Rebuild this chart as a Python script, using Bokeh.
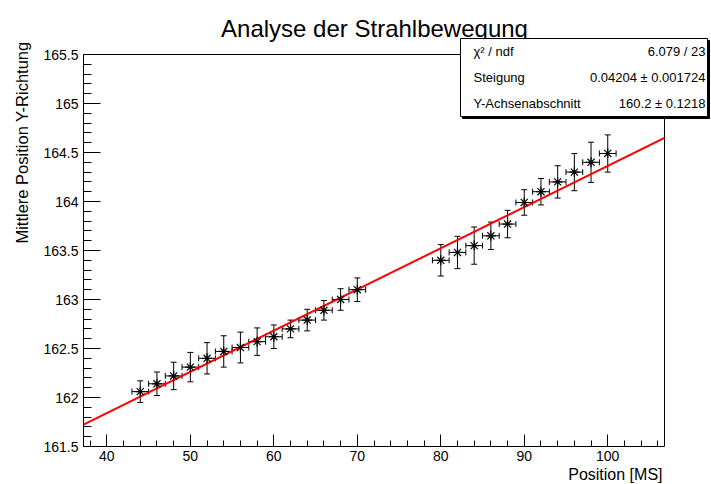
import numpy as np
from bokeh.plotting import figure
from bokeh.models import (Range1d, FixedTicker, CustomJSTickFormatter, Whisker, TeeHead,
                          ColumnDataSource, Label, BoxAnnotation, Title)
from bokeh.embed import file_html
from bokeh.resources import INLINE

# ---------------- data ----------------
title_text = "Analyse der Strahlbewegung"
x_title = "Position [MS]"
y_title = "Mittlere Position Y-Richtung"

pos_x = [44, 46, 48, 50, 52, 54, 56, 58, 60, 62, 64, 66, 68, 70,
         80, 82, 84, 86, 88, 90, 92, 94, 96, 98, 100]
pos_x_err = [1, 1, 1, 1, 1, 1, 1, 1, 1, 1, 1, 1, 1, 1,
             1, 1, 1, 1, 1, 1, 1, 1, 1, 1, 1]
mean_y = [162.06, 162.14, 162.22, 162.31, 162.40, 162.47, 162.51, 162.57, 162.62,
          162.70, 162.79, 162.89, 163.00, 163.10,
          163.40, 163.48, 163.55, 163.65, 163.77, 163.99, 164.10, 164.20, 164.30,
          164.40, 164.49]
mean_y_err = [0.11, 0.12, 0.14, 0.15, 0.16, 0.16, 0.157, 0.14, 0.12, 0.09, 0.11,
              0.10, 0.11, 0.12,
              0.16, 0.165, 0.19, 0.14, 0.14, 0.13, 0.135, 0.165, 0.19, 0.205, 0.19]

fit_slope = 0.04204
fit_intercept = 160.16

stats_names = ["χ² / ndf", "Steigung", "Y-Achsenabschnitt"]
stats_values = ["6.079 / 23", "0.04204 ± 0.001724", "160.2 ± 0.1218"]

x_lim = (37.2, 106.8)
y_lim = (161.5, 165.5)
x_major_ticks = [40, 50, 60, 70, 80, 90, 100]
x_minor_ticks = list(range(38, 107, 2))
y_major_ticks = [161.5, 162, 162.5, 163, 163.5, 164, 164.5, 165, 165.5]
y_minor_ticks = [round(v, 1) for v in np.arange(161.5, 165.55, 0.1)]

# ---------------- layout (page pixels) ----------------
W, H = 711, 484
AX_L, AX_R, AX_T, AX_B = 83, 664, 54, 446   # ROOT frame edges on the page
# Bokeh frame spans to the right edge and the top of the canvas so that
# the title and the statistics box (which overlap the ROOT frame) are not clipped
F_L, F_R, F_T, F_B = AX_L, W, 0, AX_B

ppu_x = (AX_R - AX_L) / (x_lim[1] - x_lim[0])
ppu_y = (AX_B - AX_T) / (y_lim[1] - y_lim[0])
x_view = (x_lim[0], x_lim[1] + (F_R - AX_R) / ppu_x)
y_view = (y_lim[0], y_lim[1] + (AX_T - F_T) / ppu_y)


def fx(px):
    return px - F_L


def fy(py):
    return F_B - py


FONT = "Liberation Sans"

p = figure(width=W, height=H, output_backend="svg", toolbar_location=None,
           x_range=Range1d(*x_view), y_range=Range1d(*y_view),
           min_border_left=F_L, min_border_right=W - F_R,
           min_border_top=F_T, min_border_bottom=H - F_B)
p.title.visible = False
p.xgrid.visible = False
p.ygrid.visible = False
p.background_fill_color = "white"
p.border_fill_color = "white"
p.outline_line_color = None

fmt = CustomJSTickFormatter(code="return String(Math.round(tick*10)/10)")

xa = p.xaxis[0]
xa.bounds = x_lim
xa.ticker = FixedTicker(ticks=x_major_ticks, minor_ticks=x_minor_ticks)
xa.formatter = fmt
xa.major_tick_in = 12
xa.major_tick_out = 0
xa.minor_tick_in = 6
xa.minor_tick_out = 0
xa.major_label_standoff = 4
xa.major_label_text_font = FONT
xa.major_label_text_font_size = "14px"
xa.major_label_text_color = "black"
xa.axis_line_color = "black"
xa.major_tick_line_color = "black"
xa.minor_tick_line_color = "black"

ya = p.yaxis[0]
ya.bounds = y_lim
ya.ticker = FixedTicker(ticks=y_major_ticks, minor_ticks=y_minor_ticks)
ya.formatter = fmt
ya.major_tick_in = 17
ya.major_tick_out = 0
ya.minor_tick_in = 8
ya.minor_tick_out = 0
ya.major_label_standoff = 5
ya.major_label_text_font = FONT
ya.major_label_text_font_size = "14px"
ya.major_label_text_color = "black"
ya.axis_line_color = "black"
ya.major_tick_line_color = "black"
ya.minor_tick_line_color = "black"

# axis titles (ROOT style: aligned to the end of each axis)
p.add_layout(Title(text=x_title, align="right", offset=W - 662, standoff=0,
                   text_font=FONT, text_font_size="16px", text_font_style="normal",
                   text_color="black"), "below")
p.add_layout(Title(text=y_title, align="right", offset=41, standoff=19,
                   text_font=FONT, text_font_size="16.5px", text_font_style="normal",
                   text_color="black"), "left")

# ROOT frame box
p.quad(left=[x_lim[0]], right=[x_lim[1]], bottom=[y_lim[0]], top=[y_lim[1]],
       fill_color=None, line_color="black", line_width=1)

# fit line across the ROOT frame
fit_x = np.array(x_lim)
fit_y = fit_intercept + fit_slope * fit_x
p.line(fit_x, fit_y, line_color="#ff0000", line_width=2)

src = ColumnDataSource(dict(
    x=pos_x, y=mean_y,
    xlo=[a - b for a, b in zip(pos_x, pos_x_err)],
    xhi=[a + b for a, b in zip(pos_x, pos_x_err)],
    ylo=[a - b for a, b in zip(mean_y, mean_y_err)],
    yhi=[a + b for a, b in zip(mean_y, mean_y_err)],
))

p.add_layout(Whisker(source=src, base="x", lower="ylo", upper="yhi", dimension="height",
                     line_color="black", line_width=1,
                     lower_head=TeeHead(size=6, line_color="black", line_width=1),
                     upper_head=TeeHead(size=6, line_color="black", line_width=1)))
p.add_layout(Whisker(source=src, base="y", lower="xlo", upper="xhi", dimension="width",
                     line_color="black", line_width=1,
                     lower_head=TeeHead(size=6, line_color="black", line_width=1),
                     upper_head=TeeHead(size=6, line_color="black", line_width=1)))

p.scatter("x", "y", source=src, marker="asterisk", size=10,
          line_color="black", line_width=1.2)

# title
p.add_layout(Label(x=fx(374), y=fy(28), x_units="screen", y_units="screen",
                   text=title_text, text_align="center", text_baseline="alphabetic",
                   text_font=FONT, text_font_size="24px", text_color="black"))

# stats box
BL, BR, BT, BB = 460, 707, 38, 116
p.add_layout(BoxAnnotation(left=fx(BL + 2), right=fx(BR + 2), top=fy(BT + 2), bottom=fy(BB + 2),
                           left_units="screen", right_units="screen",
                           top_units="screen", bottom_units="screen",
                           fill_color="black", fill_alpha=1.0, line_color="black",
                           line_alpha=1.0, line_width=1))
p.add_layout(BoxAnnotation(left=fx(BL), right=fx(BR), top=fy(BT), bottom=fy(BB),
                           left_units="screen", right_units="screen",
                           top_units="screen", bottom_units="screen",
                           fill_color="white", fill_alpha=1.0, line_color="black",
                           line_alpha=1.0, line_width=1))
row_y = [51, 77, 103]
for name, val, ry in zip(stats_names, stats_values, row_y):
    p.add_layout(Label(x=fx(473), y=fy(ry), x_units="screen", y_units="screen",
                       text=name, text_align="left", text_baseline="middle",
                       text_font=FONT, text_font_size="13px", text_color="black"))
    p.add_layout(Label(x=fx(705), y=fy(ry), x_units="screen", y_units="screen",
                       text=val, text_align="right", text_baseline="middle",
                       text_font=FONT, text_font_size="13px", text_color="black"))

open("out.html", "w").write(file_html(p, INLINE))
